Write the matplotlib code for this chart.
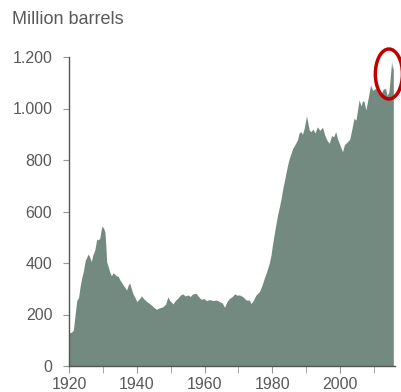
import matplotlib
matplotlib.use("Agg")
import matplotlib.pyplot as plt
from matplotlib.patches import Ellipse
from matplotlib.ticker import FuncFormatter, MultipleLocator

# US crude oil stocks, million barrels
years = [1920.0, 1920.8, 1921.3, 1921.8, 1922.3, 1922.8, 1923.3, 1923.8, 1924.2, 1924.8,
         1925.3, 1925.7, 1926.2, 1926.6, 1927.0, 1927.6, 1928.2, 1928.7, 1929.1, 1929.5,
         1929.8, 1930.2, 1930.6, 1930.9, 1931.1, 1931.6, 1932.0, 1932.5, 1933.0, 1933.5,
         1934.0, 1934.5, 1935.0, 1935.5, 1936.0, 1936.5, 1937.0, 1937.5, 1937.9, 1938.4,
         1938.9, 1939.5, 1940.0, 1940.7, 1941.4, 1942.0, 1942.8, 1943.5, 1944.3, 1945.0,
         1945.8, 1946.5, 1947.2, 1947.7, 1948.5, 1949.2, 1949.7, 1950.7, 1951.4, 1952.1,
         1952.8, 1953.6, 1954.3, 1955.1, 1955.8, 1956.5, 1957.5, 1958.2, 1959.0, 1959.8,
         1960.5, 1961.5, 1962.5, 1963.5, 1964.4, 1965.2, 1965.9, 1966.6, 1967.4, 1968.2,
         1968.9, 1969.6, 1970.3, 1971.2, 1972.3, 1973.2, 1973.7, 1974.2, 1975.2, 1976.2,
         1977.0, 1977.6, 1978.3, 1979.1, 1979.6, 1980.1, 1980.6, 1981.1, 1981.6, 1982.1,
         1982.6, 1983.0, 1983.5, 1984.0, 1984.5, 1985.0, 1985.5, 1986.0, 1986.7, 1987.4,
         1987.9, 1988.4, 1988.9, 1989.4, 1990.1, 1990.4, 1990.9, 1991.4, 1992.0, 1992.6,
         1993.3, 1994.0, 1994.8, 1995.5, 1996.2, 1996.8, 1997.5, 1998.1, 1998.7, 1999.3,
         1999.9, 2000.7, 2001.3, 2002.2, 2002.8, 2003.4, 2004.1, 2004.7, 2005.2, 2005.6,
         2006.2, 2006.6, 2007.1, 2007.6, 2008.2, 2009.0, 2009.6, 2010.5, 2011.2, 2012.0,
         2012.7, 2013.4, 2013.9, 2014.4, 2014.8, 2015.2, 2015.5, 2015.7]
stocks = [128, 132, 140, 200, 255, 265, 310, 345, 366, 410,
          425, 435, 420, 405, 430, 450, 493, 490, 497, 530,
          544, 535, 521, 460, 405, 385, 366, 350, 362, 357,
          350, 349, 335, 325, 314, 305, 295, 315, 322, 300,
          280, 265, 250, 260, 272, 262, 252, 245, 237, 228,
          220, 225, 228, 230, 240, 269, 255, 241, 255, 263,
          275, 280, 272, 276, 270, 280, 282, 270, 259, 262,
          254, 258, 254, 256, 250, 245, 228, 250, 263, 270,
          280, 275, 276, 270, 256, 256, 243, 250, 276, 289,
          315, 340, 365, 399, 430, 476, 515, 554, 590, 619,
          650, 683, 715, 748, 780, 806, 825, 845, 860, 878,
          905, 910, 900, 923, 971, 950, 916, 910, 920, 905,
          929, 915, 927, 895, 875, 865, 895, 890, 910, 880,
          860, 832, 860, 871, 880, 915, 962, 955, 1000, 1033,
          1010, 1030, 1026, 994, 1035, 1091, 1070, 1078, 1060, 1052,
          1075, 1078, 1050, 1065, 1120, 1182, 1150, 1170]

plt.rcParams['font.family'] = ['Liberation Sans', 'DejaVu Sans']
grey = '#595959'

fig = plt.figure(figsize=(4.01, 3.92), dpi=100)
ax = fig.add_axes([69/401, 1 - 366/392, 326/401, 309/392])

ax.fill_between(years, stocks, 0, color='#728a7f', lw=0)

ax.set_xlim(1920, 2016.2)
ax.set_ylim(0, 1200)
ax.xaxis.set_major_locator(MultipleLocator(20))
ax.xaxis.set_minor_locator(MultipleLocator(10))
ax.yaxis.set_major_locator(MultipleLocator(200))
ax.yaxis.set_major_formatter(FuncFormatter(lambda v, p: f'{int(v):,}'.replace(',', '.')))

for s in ['top', 'right']:
    ax.spines[s].set_visible(False)
for s in ['left', 'bottom']:
    ax.spines[s].set_color('#555555')
    ax.spines[s].set_linewidth(1)

ax.tick_params(axis='x', which='both', length=5, color='#999999', labelcolor=grey,
               labelsize=11.5, pad=3)
ax.tick_params(axis='y', length=4, color='#999999', labelcolor=grey, labelsize=11.5, pad=8)

# highlight of the latest peak
ax.add_patch(Ellipse((2014.4, 1134), 8.0, 194, fill=False, ec='#c00000', lw=2.5,
                     clip_on=False))

fig.text(12/401, 1 - 20/392, 'Million barrels', fontsize=13, color=grey, va='center')

fig.savefig('out.png', dpi=100)
